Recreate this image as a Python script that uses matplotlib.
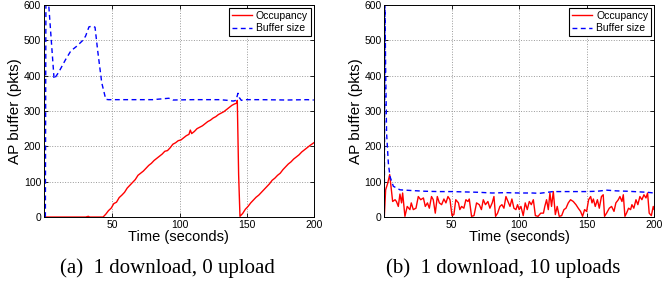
import matplotlib
matplotlib.use('Agg')
import matplotlib.pyplot as plt

plt.rcParams['font.family'] = ['Liberation Sans', 'DejaVu Sans']

# (a) 1 download, 0 upload
a_buf_t = [0, 0.4, 2.5, 6.5, 10, 15, 19, 23, 28, 30, 32.5, 35, 37, 39, 42, 45, 47,
           60, 80, 92, 95, 110, 130, 136, 140, 142, 143.5, 144.5, 146, 148,
           160, 180, 195, 200]
a_buf = [0, 600, 600, 390, 410, 445, 470, 482, 500, 512, 538, 540, 537, 470, 380, 333, 332,
         332, 332, 336, 331, 332, 332, 330, 328, 330, 350, 338, 330, 332,
         332, 331, 332, 331]

a_occ_t = [0, 10, 20, 30, 32, 33, 34, 40, 43, 45, 47, 49, 51, 53, 55, 57, 59, 61, 63, 65,
           67, 69, 71, 73, 75, 77, 79, 81, 83, 85, 87, 89, 91, 93, 95, 97, 99, 101,
           103, 105, 107, 108, 109, 111, 113, 115, 117, 119, 121, 123, 125, 127, 129,
           131, 133, 135, 137, 139, 141, 142.5, 143, 144, 145, 147, 149, 151, 153, 155,
           157, 159, 161, 163, 165, 167, 169, 171, 173, 175, 177, 179, 181, 183, 185,
           187, 189, 191, 193, 195, 197, 200]
a_occ = [0, 0, 0, 0, 2, 0, 0, 0, 0, 8, 18, 25, 38, 42, 55, 62, 70, 82, 90, 98,
         106, 118, 124, 130, 138, 146, 152, 160, 166, 172, 178, 186, 188, 196, 206, 210, 216, 218,
         224, 230, 234, 246, 236, 242, 250, 254, 258, 264, 270, 274, 280, 284, 290,
         294, 298, 304, 310, 316, 320, 322, 330, 120, 2, 10, 22, 30, 40, 48,
         56, 62, 70, 78, 86, 94, 104, 110, 118, 124, 134, 142, 150, 156, 164,
         170, 176, 184, 190, 196, 202, 210]

# (b) 1 download, 10 uploads
b_buf_t = [0, 0.5, 1, 1.7, 3, 4.2, 6.7, 11.6, 20, 30, 40, 50, 60, 70, 80, 90, 100,
           110, 115, 125, 140, 150, 158, 165, 172, 180, 190, 195, 200]
b_buf = [0, 600, 420, 237, 153, 115, 87, 77, 75, 73, 72, 72, 71, 70, 68, 69, 68,
         68, 67, 72, 72, 72, 73, 76, 74, 73, 71, 70, 68]

b_occ_t = [0, 1, 2.5, 4, 6.2, 8, 9, 10.4, 11.6, 12.8, 13.6, 15.3, 17, 19, 20, 21.5, 23.5,
           25.2, 27, 29, 30.4, 32, 33.4, 35, 36.3, 37.8, 39.3, 40.8, 42.5, 44.2, 45.7,
           47.2, 48.7, 50.2, 51.6, 53, 55, 56, 57.3, 59, 60.5, 62, 63, 64.7, 66.5, 68.4,
           70.4, 72, 73.4, 75, 76.8, 78.3, 80, 81.3, 82.5, 84, 85.7, 87.2, 88.7, 90.2,
           91.7, 93.2, 94.6, 96.1, 97.6, 98.8, 100, 101.3, 103, 104.5, 106, 107.5, 109,
           110.5, 112, 114, 116, 118, 119, 120.3, 121.6, 122.8, 124, 125.3, 126.8, 128.2,
           129.7, 131.5, 133.2, 134.7, 136.4, 138.1, 140.1, 142.1, 143.8, 145.5, 147,
           148.5, 150, 151.5, 153, 154, 155, 156.4, 158, 159.4, 161, 162.3, 163.3, 164.8,
           166.8, 168.5, 170.3, 171.7, 173.5, 174.7, 176.2, 177.2, 178.4, 179.6, 181.1,
           182.6, 183.6, 185, 186.6, 188, 189.5, 191, 192.5, 194, 195.2, 196.4, 198,
           199.4, 200]
b_occ = [0, 77, 95, 120, 44, 49, 44, 30, 65, 40, 68, 2, 30, 21, 40, 21, 25,
         58, 49, 54, 30, 40, 25, 58, 49, 11, 58, 40, 35, 51, 40,
         58, 49, 4, 7, 49, 40, 21, 30, 25, 49, 44, 51, 2, 4, 40,
         35, 21, 49, 35, 44, 25, 40, 58, 2, 11, 30, 35, 25, 58,
         44, 30, 51, 25, 21, 35, 21, 30, 4, 40, 21, 44, 35,
         49, 4, 2, 11, 11, 30, 49, 21, 68, 30, 72, 7, 30,
         2, 4, 21, 25, 40, 49, 44, 35, 25, 16, 2,
         21, 16, 49, 58, 40, 51, 30, 49, 25, 58, 63, 2, 11,
         25, 30, 16, 40, 49, 58, 44, 63, 2, 11, 25,
         21, 35, 25, 49, 35, 58, 49, 63, 54, 68, 11, 4,
         30, 22]

x_ticks = [50, 100, 150, 200]
y_ticks = [0, 100, 200, 300, 400, 500, 600]
captions = ['(a)  1 download, 0 upload', '(b)  1 download, 10 uploads']

fig = plt.figure(figsize=(6.62, 2.89), dpi=100)
ax_a = fig.add_axes([0.0665, 0.249, 0.4075, 0.734])
ax_b = fig.add_axes([0.5805, 0.249, 0.4075, 0.734])

panels = [(ax_a, a_occ_t, a_occ, a_buf_t, a_buf, -1),
          (ax_b, b_occ_t, b_occ, b_buf_t, b_buf, 0)]

for ax, ot, oc, bt, bf, xmin in panels:
    ax.plot(ot, oc, color='red', lw=1.0, label='Occupancy')
    ax.plot(bt, bf, color='blue', lw=1.0, ls=(0, (3.5, 2.5)), label='Buffer size')
    ax.set_xlim(xmin, 200)
    ax.set_ylim(0, 600)
    ax.set_xticks(x_ticks)
    ax.set_yticks(y_ticks)
    ax.tick_params(direction='in', labelsize=7.5, length=3, width=0.6,
                   top=True, right=True, pad=2)
    ax.grid(True, ls=':', color='#999999', lw=0.7)
    for s in ax.spines.values():
        s.set_linewidth(0.7)
    ax.set_xlabel('Time (seconds)', fontsize=10.5, labelpad=0)
    ax.set_ylabel('AP buffer (pkts)', fontsize=11, labelpad=1)
    leg = ax.legend(loc='upper right', fontsize=7.5, fancybox=False, framealpha=1,
                    edgecolor='black', borderpad=0.3, handlelength=1.9,
                    handletextpad=0.4, labelspacing=0.25, borderaxespad=0.25)
    leg.get_frame().set_linewidth(0.8)

fig.text(0.253, 0.073, captions[0], ha='center', va='center', fontsize=15,
         family='Liberation Serif')
fig.text(0.76, 0.073, captions[1], ha='center', va='center', fontsize=15,
         family='Liberation Serif')

fig.savefig('out.png', dpi=100)
